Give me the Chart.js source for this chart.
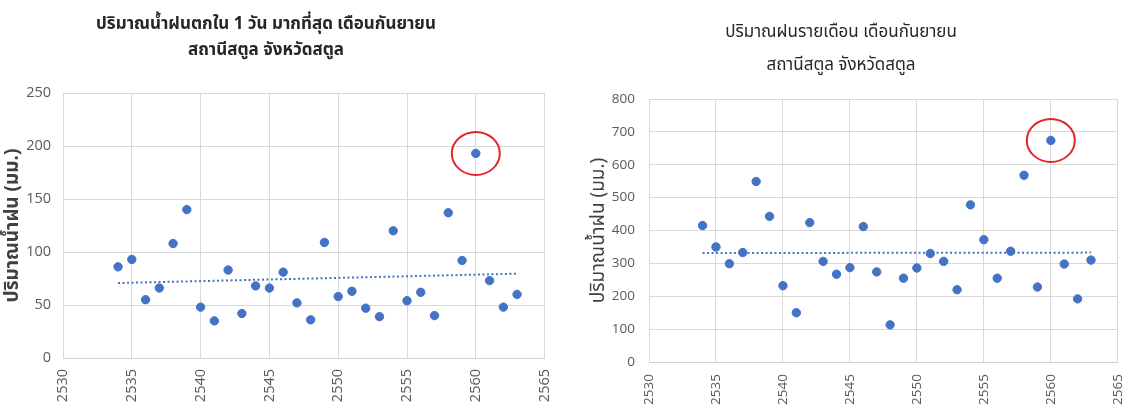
<!DOCTYPE html>
<html><head><meta charset="utf-8">
<script src="https://cdn.jsdelivr.net/npm/chart.js@4/dist/chart.umd.min.js"></script>
<style>
body{margin:0;background:#fff;width:1146px;height:408px;position:relative;overflow:hidden;font-family:"Noto Sans Thai","Noto Sans","DejaVu Sans",sans-serif}
.c{position:absolute;top:0;width:573px;height:408px}
.t{position:absolute;text-align:center;color:#262626;white-space:nowrap}
</style></head><body>
<div class="c" style="left:0"><canvas id="c1" width="573" height="408"></canvas></div>
<div class="c" style="left:573px"><canvas id="c2" width="573" height="408"></canvas></div>
<div class="t" id="t1" style="left:66px;width:400px;top:11px;font-size:17px;font-weight:bold;line-height:26px">ปริมาณน้ำฝนตกใน 1 วัน มากที่สุด เดือนกันยายน<br>สถานีสตูล จังหวัดสตูล</div>
<div class="t" id="t2" style="left:641px;width:400px;top:16px;font-size:17px;line-height:33px">ปริมาณฝนรายเดือน เดือนกันยายน<br>สถานีสตูล จังหวัดสตูล</div>
<script>
const years = [2534,2535,2536,2537,2538,2539,2540,2541,2542,2543,2544,2545,2546,2547,2548,2549,2550,2551,2552,2553,2554,2555,2556,2557,2558,2559,2560,2561,2562,2563];
const maxDailyRain = [86,93,55,66,108,140,48,35,83,42,68,66,81,52,36,109,58,63,47,39,120,54,62,40,137,92,193,73,48,60];
const monthlyRain = [415,350,299,333,549,443,232,150,424,306,267,287,412,274,113,255,286,330,306,220,478,372,255,337,568,228,674,298,192,310];
const highlightYear = 2560;
const xRange = [2530, 2565, 5];
const yRangeLeft = [0, 250, 50];
const yRangeRight = [0, 800, 100];
const yTitle = 'ปริมาณน้ำฝน (มม.)';

function trend(xs, ys) {
  const n = xs.length;
  let sx=0, sy=0, sxx=0, sxy=0;
  for (let i=0;i<n;i++){sx+=xs[i];sy+=ys[i];sxx+=xs[i]*xs[i];sxy+=xs[i]*ys[i];}
  const b = (n*sxy - sx*sy)/(n*sxx - sx*sx);
  const a = (sy - b*sx)/n;
  const x0 = xs[0], x1 = xs[n-1];
  return [{x:x0,y:a+b*x0},{x:x1,y:a+b*x1}];
}

const circlePlugin = {
  id: 'circle',
  afterDatasetsDraw(chart) {
    const meta = chart.getDatasetMeta(1);
    const idx = years.indexOf(highlightYear);
    const p = meta.data[idx];
    if (!p) return;
    const ctx = chart.ctx;
    ctx.save();
    ctx.strokeStyle = '#e3262b';
    ctx.lineWidth = 2;
    ctx.beginPath();
    ctx.ellipse(p.x, p.y, 24, 21.5, 0, 0, Math.PI*2);
    ctx.stroke();
    ctx.restore();
  }
};

function make(id, vals, yr, cfg) {
  const pts = years.map((y,i)=>({x:y,y:vals[i]}));
  return new Chart(document.getElementById(id), {
    type: 'scatter',
    data: { datasets: [
      { type:'line', data: trend(years, vals), borderColor:'#4472C4', borderWidth:2, borderDash:[2,2.5], pointRadius:0, fill:false, order:2 },
      { data: pts, backgroundColor:'#4472C4', borderColor:'#4472C4', pointRadius:4.2, pointHoverRadius:4.2, order:1 }
    ]},
    options: {
      responsive:false, animation:false,
      layout:{ padding:{ top:cfg.top, right:cfg.right, left:0, bottom:0 } },
      plugins:{ legend:{display:false}, tooltip:{enabled:false} },
      scales:{
        x:{ type:'linear', min:xRange[0], max:xRange[1],
            ticks:{ stepSize:xRange[2], minRotation:90, maxRotation:90, padding:cfg.xpad, color:'#595959', font:{family:'"Open Sans", sans-serif', size:cfg.fs}, callback:v=>String(v) },
            grid:{ color:'#d9d9d9', drawTicks:false }, border:{ color:'#d0d0d0' },
            afterFit(s){ s.height = cfg.xh; } },
        y:{ min:yr[0], max:yr[1],
            ticks:{ stepSize:yr[2], padding:cfg.ypad, color:'#595959', font:{family:'"Open Sans", sans-serif', size:cfg.fs} },
            grid:{ color:'#d9d9d9', drawTicks:false }, border:{ color:'#d9d9d9' },
            title:{ display:true, text:yTitle, color:'#404040', padding:{top:cfg.tpad,bottom:0}, font:{family:'"Noto Sans Thai","Noto Sans",sans-serif', size:cfg.tsize, weight:cfg.tweight} },
            afterFit(s){ s.width = cfg.yw; } }
      }
    },
    plugins:[circlePlugin]
  });
}

make('c1', maxDailyRain, yRangeLeft, {top:93, right:6, xh:50, yw:63, xpad:11, ypad:12, tpad:3, tsize:19, tweight:'bold', fs:14.5});
make('c2', monthlyRain, yRangeRight, {top:99, right:7, xh:46, yw:76, xpad:12, ypad:14, tpad:16, tsize:19, tweight:'normal', fs:13.5});
</script>
</body></html>
